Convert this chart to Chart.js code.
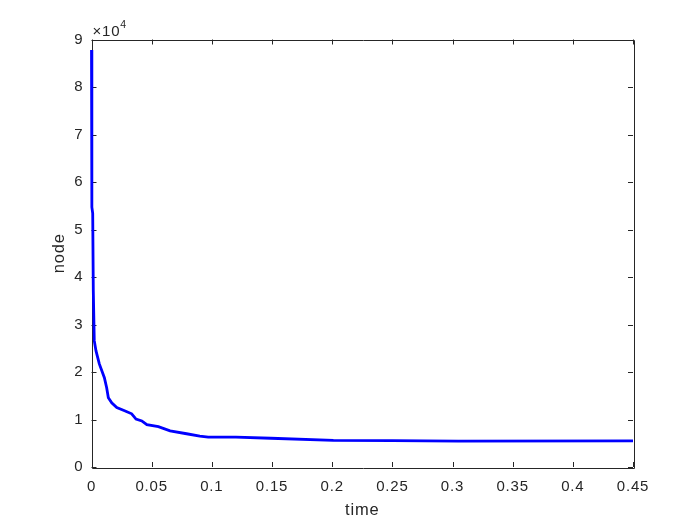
<!DOCTYPE html>
<html>
<head>
<meta charset="utf-8">
<script src="https://cdn.jsdelivr.net/npm/chart.js@4/dist/chart.umd.min.js"></script>
<style>
  body { margin: 0; background: #fff; }
  canvas { display: block; }
</style>
</head>
<body>
<canvas id="grafico" width="700" height="525"></canvas>
<script>
// dados
const tempos = [0, 0.0003, 0.001, 0.0015, 0.0023, 0.0037, 0.0065, 0.0107, 0.0126, 0.014,
  0.0168, 0.021, 0.028, 0.0334, 0.037, 0.0418, 0.046, 0.0556, 0.0653, 0.079,
  0.09, 0.097, 0.12, 0.149, 0.201, 0.25, 0.305, 0.45];
const nos = [87800, 54700, 53400, 37100, 26600, 24500, 21700, 18800, 16700, 14600,
  13500, 12500, 11800, 11200, 10100, 9700, 8900, 8500, 7600, 7000,
  6500, 6300, 6300, 6050, 5600, 5550, 5450, 5500];
const xTicks = [0, 0.05, 0.1, 0.15, 0.2, 0.25, 0.3, 0.35, 0.4, 0.45];
const yTicks = [0, 10000, 20000, 30000, 40000, 50000, 60000, 70000, 80000, 90000];

const corTexto = "#262626";
const fonte = "Liberation Sans, Arial, Helvetica, sans-serif";

// caixa com marcas para dentro, estilo matlab
const caixaPlugin = {
  id: "caixa",
  beforeDraw(chart) {
    chart.ctx.letterSpacing = "0.8px";
  },
  beforeDatasetsDraw(chart) {
    const ctx = chart.ctx;
    const a = chart.chartArea;
    const sx = chart.scales.x, sy = chart.scales.y;
    const L = 5;
    ctx.save();
    ctx.strokeStyle = corTexto;
    ctx.lineWidth = 1;
    ctx.beginPath();
    ctx.rect(Math.round(a.left) + 0.5, Math.round(a.top) + 0.5,
      Math.round(a.right - a.left), Math.round(a.bottom - a.top));
    xTicks.forEach(v => {
      const px = Math.round(sx.getPixelForValue(v)) + 0.5;
      ctx.moveTo(px, a.bottom); ctx.lineTo(px, a.bottom - L);
      ctx.moveTo(px, a.top); ctx.lineTo(px, a.top + L);
    });
    yTicks.forEach(v => {
      const py = Math.round(sy.getPixelForValue(v)) + 0.5;
      ctx.moveTo(a.left, py); ctx.lineTo(a.left + L, py);
      ctx.moveTo(a.right, py); ctx.lineTo(a.right - L, py);
    });
    ctx.stroke();
    // multiplicador x10^4
    ctx.fillStyle = corTexto;
    ctx.textBaseline = "alphabetic";
    ctx.textAlign = "left";
    ctx.font = "15px " + fonte;
    ctx.fillText("\u00d710", a.left + 1, a.top - 4);
    const w = ctx.measureText("\u00d710").width;
    ctx.font = "10.5px " + fonte;
    ctx.fillText("4", a.left + w + 1, a.top - 12);
    ctx.restore();
  }
};

function criarGrafico(id) {
  const ctx = document.getElementById(id).getContext("2d");
  new Chart(ctx, {
    type: "scatter",
    data: {
      datasets: [{
        label: "node",
        data: tempos.map((t, i) => ({ x: t, y: nos[i] })),
        showLine: true,
        borderColor: "#0000ff",
        backgroundColor: "#0000ff",
        borderWidth: 2.8,
        pointRadius: 0,
        tension: 0,
        clip: false
      }]
    },
    options: {
      responsive: false,
      animation: false,
      devicePixelRatio: 1,
      layout: { padding: { top: 39.5, right: 67, left: 0, bottom: 0 } },
      plugins: { legend: { display: false }, tooltip: { enabled: false } },
      scales: {
        x: {
          type: "linear",
          min: 0, max: 0.45,
          afterFit: s => { s.height = 58; },
          afterBuildTicks: s => { s.ticks = xTicks.map(v => ({ value: v })); },
          grid: { display: false, drawTicks: false },
          border: { display: false },
          ticks: {
            color: corTexto, padding: 11, maxRotation: 0,
            font: { family: fonte, size: 15 },
            callback: v => String(Number(v.toFixed(2)))
          },
          title: {
            display: true, text: "time", color: corTexto,
            font: { family: fonte, size: 16.5 }, padding: 5
          }
        },
        y: {
          type: "linear",
          min: 0, max: 90000,
          afterFit: s => { s.width = 91.5; },
          afterBuildTicks: s => { s.ticks = yTicks.map(v => ({ value: v })); },
          grid: { display: false, drawTicks: false },
          border: { display: false },
          ticks: {
            color: corTexto, padding: 8,
            font: { family: fonte, size: 15 },
            callback: v => String(v / 10000)
          },
          title: {
            display: true, text: "node", color: corTexto,
            font: { family: fonte, size: 16.5 }, padding: 50
          }
        }
      }
    },
    plugins: [caixaPlugin]
  });
}

document.addEventListener("DOMContentLoaded", () => criarGrafico("grafico"));
</script>
</body>
</html>
